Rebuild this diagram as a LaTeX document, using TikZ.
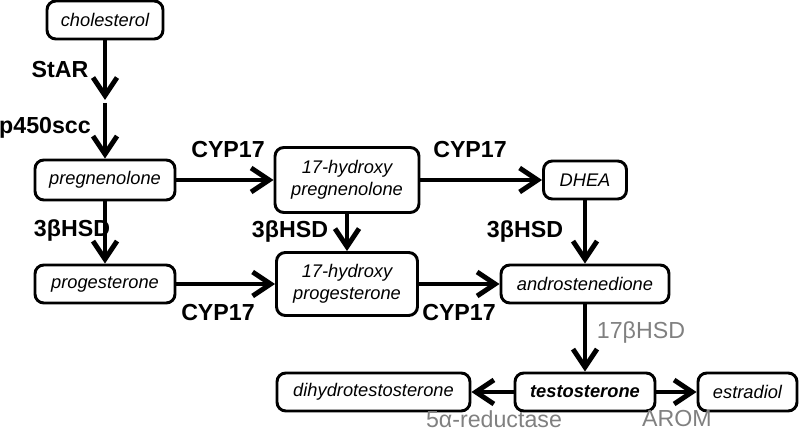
\documentclass[tikz,border=0pt]{standalone}
\usepackage{fontspec}
\setmainfont{Liberation Sans}
\usetikzlibrary{arrows.meta}

\begin{document}
\begin{tikzpicture}[x=0.25mm, y=-0.25mm,
    box/.style={rectangle, draw, line width=2.1pt, rounded corners=2.2mm, inner sep=0pt,
      minimum height=9.5mm, align=center, font=\fontsize{13}{15.6}\selectfont\itshape},
    enz/.style={font=\fontsize{16.5}{18}\selectfont\bfseries},
    enzgray/.style={font=\fontsize{16.5}{18}\selectfont, text=gray},
    rxn/.style={line width=3.5pt, -{Straight Barb[length=4.5mm, width=6mm]}}]

      % Frame
      \useasboundingbox (0,0) rectangle (800,433);

      % Variables
      \def \colA  {105}
      \def \colB  {347}
      \def \colC  {585}
      \def \rowA  {180}
      \def \rowB  {284}
      \def \rowC  {392}

      % Metabolites
      \node[box, minimum width=29mm] (chol) at (\colA,20) {cholesterol};
      \node[box, minimum width=35mm, minimum height=10mm] (preg) at (\colA,\rowA) {pregnenolone};
      \node[box, minimum width=36mm, minimum height=16.25mm] (ohpreg) at (\colB,\rowA) {17-hydroxy\\pregnenolone};
      \node[box, minimum width=20.75mm] (dhea) at (\colC,\rowA) {DHEA};
      \node[box, minimum width=35mm] (prog) at (\colA,\rowB) {progesterone};
      \node[box, minimum width=35.25mm, minimum height=15.75mm] (ohprog) at (\colB,\rowB) {17-hydroxy\\progesterone};
      \node[box, minimum width=42mm] (andro) at (\colC,\rowB) {androstenedione};
      \node[box, minimum width=35mm, font=\fontsize{13}{15.6}\selectfont\bfseries\itshape] (testo) at (\colC,\rowC) {testosterone};
      \node[box, minimum width=48.25mm] (dht) at (373.5,\rowC) {dihydrotestosterone};
      \node[box, minimum width=24.75mm] (estr) at (747.5,\rowC) {estradiol};

      % Break between StAR and p450scc
      \coordinate (m1) at (\colA,100);
      \coordinate (m2) at (\colA,103);

      % Reactions
      \draw[rxn] (chol) -- (m1);
      \draw[rxn] (m2) -- (preg);
      \draw[rxn] (preg) -- (ohpreg);
      \draw[rxn] (ohpreg) -- (dhea);
      \draw[rxn] (preg) -- (prog);
      \draw[rxn] (ohpreg) -- (ohprog);
      \draw[rxn] (dhea) -- (andro);
      \draw[rxn] (prog) -- (ohprog);
      \draw[rxn] (ohprog) -- (andro);
      \draw[rxn] (andro) -- (testo);
      \draw[rxn] (testo) -- (dht);
      \draw[rxn] (testo) -- (estr);

      % Enzymes
      \node[enz] (star) at (60,70) {StAR};
      \node[enz] (scc) at (45,128) {p450scc};
      \node[enz] (cypA) at (228,150) {CYP17};
      \node[enz] (cypB) at (470,150) {CYP17};
      \node[enz] (hsdA) at (72,231) {3βHSD};
      \node[enz] (hsdB) at (290,232) {3βHSD};
      \node[enz] (hsdC) at (525,232) {3βHSD};
      \node[enz] (cypC) at (218,313) {CYP17};
      \node[enz] (cypD) at (459,313) {CYP17};
      \node[enzgray] (hsdD) at (641,333) {17βHSD};
      \node[enzgray] (red) at (494,419) {5α-reductase};
      \node[enzgray] (arom) at (677,419) {AROM};

\end{tikzpicture}
\end{document}
